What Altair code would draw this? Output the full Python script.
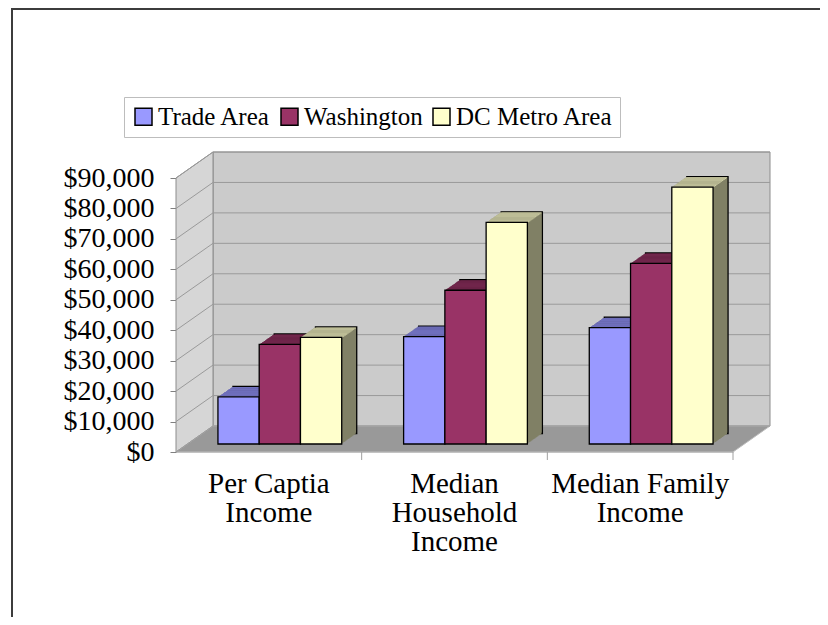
import altair as alt
import pandas as pd

# ---------------- data ----------------
categories = ["Per Captia Income", "Median Household Income", "Median Family Income"]
category_lines = [["Per Captia", "Income"], ["Median", "Household", "Income"], ["Median Family", "Income"]]
series = ["Trade Area", "Washington", "DC Metro Area"]
trade_area = [15500, 35300, 38200]
washington = [32700, 50500, 59300]
dc_metro_area = [35000, 72800, 84400]
y_ticks = [0, 10000, 20000, 30000, 40000, 50000, 60000, 70000, 80000, 90000]

# ---------------- styles ----------------
front_colors = ["#9999FF", "#993366", "#FFFFCC"]
top_colors = ["#7878CC", "#7A2952", "#CCCCA3"]
side_colors = ["#4D4D80", "#4D1A33", "#808066"]
FONT = "Liberation Serif"

W, H = 557, 274            # front plane of the plot
WALL_DX, WALL_DY = 37, 26  # depth of the 3-D box
BAR_BX, BAR_BY = 11, 8     # where the bars' front faces sit inside the box
STEPS = 15
STEP_X, STEP_Y = 1.0, 0.7  # bar depth drawn as thin slices
PAD_IN, PAD_OUT = 1 / 3, 1 / 6

rows = []
for ser, vals in zip(series, [trade_area, washington, dc_metro_area]):
    for cat, v in zip(categories, vals):
        rows.append({"category": cat, "series": ser, "value": v})
df = pd.DataFrame(rows)
grid_df = pd.DataFrame({"tick": y_ticks})
cat_df = pd.DataFrame({"category": categories})

y_scale = alt.Scale(domain=[0, 90000], nice=False, zero=True)


def x_scale(shift):
    return alt.Scale(domain=categories, range=[shift, W + shift],
                     paddingInner=PAD_IN, paddingOuter=PAD_OUT)


def x_enc(shift, axis=None):
    return alt.X("category:N", sort=categories, title=None,
                 scale=x_scale(shift), axis=axis)


xo = alt.XOffset("series:N", sort=series, scale=alt.Scale(domain=series))
y_val = alt.Y("value:Q", scale=y_scale, axis=None)

# ---------------- 3-D box (walls and floor) ----------------
px_x = alt.Scale(domain=[0, W], nice=False, zero=False)
px_y = alt.Scale(domain=[0, H], nice=False, zero=False)

back_wall = alt.Chart(pd.DataFrame({"x": [WALL_DX], "x2": [W + WALL_DX],
                                    "y": [WALL_DY], "y2": [H + WALL_DY]})).mark_rect(
    fill="#cbcbcb", stroke="#8c8c8c", strokeWidth=1
).encode(
    x=alt.X("x:Q", scale=px_x, axis=None), x2="x2:Q",
    y=alt.Y("y:Q", scale=px_y, axis=None), y2="y2:Q",
)

left_wall = alt.Chart(pd.DataFrame({"x": [0, WALL_DX], "lo": [0, WALL_DY],
                                    "hi": [H, H + WALL_DY]})).mark_area(
    fill="#d6d6d6", stroke="#8c8c8c", strokeWidth=1
).encode(
    x=alt.X("x:Q", scale=px_x, axis=None),
    y=alt.Y("lo:Q", scale=px_y, axis=None), y2="hi:Q",
)

floor = alt.Chart(pd.DataFrame({"x": [0, WALL_DX, W, W + WALL_DX],
                                "lo": [0, 0, 0, WALL_DY],
                                "hi": [0, WALL_DY, WALL_DY, WALL_DY]})).mark_area(
    fill="#999999", stroke="#bdbdbd", strokeWidth=1
).encode(
    x=alt.X("x:Q", scale=px_x, axis=None),
    y=alt.Y("lo:Q", scale=px_y, axis=None), y2="hi:Q",
)

back_grid = alt.Chart(grid_df).mark_rule(color="#9a9a9a", strokeWidth=1, yOffset=-WALL_DY).encode(
    y=alt.Y("tick:Q", scale=y_scale, axis=None),
    x=alt.value(WALL_DX), x2=alt.value(W + WALL_DX),
)

side_grid = alt.Chart(grid_df).mark_rule(color="#9a9a9a", strokeWidth=1, y2Offset=-WALL_DY).encode(
    y=alt.Y("tick:Q", scale=y_scale,
            axis=alt.Axis(orient="left", values=y_ticks, format="$,.0f", title=None,
                          grid=False, labelFont=FONT, labelFontSize=28, labelColor="black",
                          labelPadding=16, tickSize=6, tickColor="#808080",
                          domainColor="#808080", labelOverlap=False)),
    y2=alt.Y2("tick:Q"),
    x=alt.value(0), x2=alt.value(WALL_DX),
)

# ---------------- bars, drawn as slices from back to front ----------------
side_fill = alt.Fill("series:N", scale=alt.Scale(domain=series, range=side_colors), legend=None)
top_fill = alt.Fill("series:N", scale=alt.Scale(domain=series, range=top_colors), legend=None)

bar_layers = []
for k in range(STEPS, 0, -1):
    sh = BAR_BX + k * STEP_X
    off = -(BAR_BY + k * STEP_Y)
    bar_layers.append(
        alt.Chart(df).mark_bar(yOffset=off, y2Offset=off).encode(
            x=x_enc(sh), xOffset=xo, y=y_val, fill=side_fill)
    )
    bar_layers.append(
        alt.Chart(df).mark_bar(yOffset=off, y2Offset=off + STEP_Y + 0.3).encode(
            x=x_enc(sh), xOffset=xo, y=y_val, y2=alt.Y2("value:Q"), fill=top_fill)
    )
    if k == STEPS:
        bar_layers.append(
            alt.Chart(df).mark_bar(yOffset=off, y2Offset=off, fillOpacity=0,
                                   stroke="black", strokeWidth=1.3).encode(
                x=x_enc(sh), xOffset=xo, y=y_val)
        )

front = alt.Chart(df).mark_bar(yOffset=-BAR_BY, y2Offset=-BAR_BY,
                               stroke="black", strokeWidth=1.3).encode(
    x=x_enc(BAR_BX), xOffset=xo, y=y_val,
    color=alt.Color("series:N", sort=series,
                    scale=alt.Scale(domain=series, range=front_colors),
                    legend=alt.Legend(orient="none", legendX=-52, legendY=-81,
                                      direction="horizontal", title=None,
                                      symbolType="square", symbolSize=289,
                                      symbolStrokeColor="black", symbolStrokeWidth=1.5,
                                      labelFont=FONT, labelFontSize=25, labelColor="black",
                                      labelOffset=2, columnPadding=6, padding=7,
                                      strokeColor="#bdbdbd", fillColor="white",
                                      labelLimit=400)),
)

label_expr = " : ".join(
    f"datum.value == '{c}' ? {lines!r}" for c, lines in zip(categories, category_lines)
) + " : datum.label"

x_axis_layer = alt.Chart(df).mark_bar(opacity=0).encode(
    x=x_enc(0, axis=alt.Axis(orient="bottom", labelExpr=label_expr, labelFont=FONT,
                             labelFontSize=29, labelColor="black", labelLineHeight=29,
                             labelBaseline="top", labelPadding=17, labelAngle=0,
                             ticks=False, tickSize=0,
                             domainColor="#c8c8c8", labelLimit=400)),
    y=y_val,
)

# category boundary ticks below the floor edge (end of each band plus half the gap)
step = W / (len(categories) - PAD_IN + 2 * PAD_OUT)
half_gap = step * PAD_IN / 2
x_ticks = alt.Chart(cat_df).mark_rule(color="#a0a0a0", strokeWidth=1, xOffset=half_gap).encode(
    x=alt.X("category:N", sort=categories, scale=x_scale(0), axis=None, bandPosition=1),
    y=alt.value(H), y2=alt.value(H + 8),
)

# ---------------- outer frame ----------------
frame_df = pd.DataFrame({"a": [0]})
frame_left = alt.Chart(frame_df).mark_rule(color="#3c3c3c", strokeWidth=2).encode(
    x=alt.value(-164), y=alt.value(-170), y2=alt.value(439))
frame_top = alt.Chart(frame_df).mark_rule(color="#3c3c3c", strokeWidth=2).encode(
    x=alt.value(-164), x2=alt.value(644), y=alt.value(-169))

chart = alt.layer(
    back_wall, left_wall, floor, back_grid, side_grid,
    *bar_layers, front, x_axis_layer, x_ticks, frame_left, frame_top,
).resolve_scale(
    x="independent", y="independent", xOffset="independent",
    color="independent", fill="independent",
).properties(
    width=W, height=H,
    autosize=alt.AutoSizeParams(type="none"),
    padding={"left": 168, "top": 170, "right": 87, "bottom": 165},
    background="white",
).configure_view(strokeWidth=0)

chart.save("out.html", embed_options={"renderer": "svg", "actions": False})
